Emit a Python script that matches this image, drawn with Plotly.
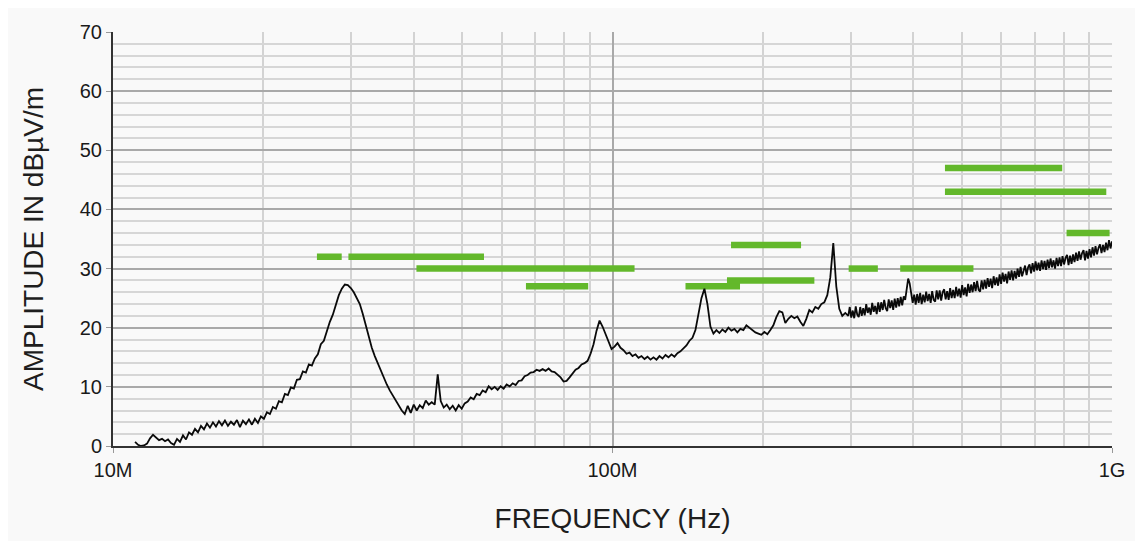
import numpy as np
import plotly.graph_objects as go

# ---- Measured sweep, band 1 (log-spaced, 11.07 MHz .. 296 MHz) ----
band1_start_hz = 11.07e6
band1_stop_hz = 296.5e6
band1_dbuv_m = [
    0.7, 0.2, 0.0, 0.1, 0.4, 1.3, 1.9, 1.5, 1.0, 1.2,
    0.8, 1.1, 0.5, 0.2, 1.2, 0.7, 1.8, 1.1, 2.3, 1.9,
    2.9, 2.3, 3.4, 2.8, 3.8, 3.1, 4.0, 3.3, 4.2, 3.5,
    4.3, 3.4, 4.1, 3.6, 4.4, 3.2, 4.3, 3.7, 4.5, 3.6,
    4.6, 3.9, 5.0, 4.6, 5.7, 5.4, 6.6, 6.3, 7.6, 7.4,
    8.8, 8.6, 9.9, 9.7, 11.2, 11.3, 12.6, 12.4, 13.8, 13.6,
    14.8, 15.5, 17.2, 17.8, 19.6, 21.0, 22.2, 24.0, 25.5, 26.6,
    27.3, 27.2, 26.7, 26.0, 25.0, 24.0, 22.3, 20.3, 18.6, 16.6,
    15.2, 14.0, 12.6, 11.5, 10.4, 9.4, 8.5, 7.6, 6.8, 6.0,
    5.4, 6.8, 5.6, 7.0, 6.0, 6.9, 6.4, 7.7, 7.0, 7.4,
    7.0, 12.1, 7.6, 6.5, 7.0, 6.2, 6.8, 6.0, 6.9, 6.3,
    7.2, 7.5, 8.2, 7.9, 8.8, 8.6, 9.4, 9.1, 10.1, 9.6,
    10.0, 9.5, 10.1, 9.7, 10.4, 10.1, 10.6, 10.3, 11.0, 11.1,
    11.8, 12.0, 12.4, 12.5, 12.9, 12.7, 13.0, 12.7, 13.1, 12.6,
    12.5, 12.0, 11.6, 10.9, 11.0, 11.6, 12.3, 12.9, 13.2, 13.8,
    14.0, 14.4, 15.6, 17.2, 19.5, 21.2, 20.2, 18.9, 17.4, 16.4,
    16.8, 17.4, 16.6, 16.2, 15.6, 15.8, 15.2, 15.5, 14.9, 15.2,
    14.7, 15.1, 14.6, 15.0, 14.6, 15.2, 14.8, 15.4, 15.0, 15.5,
    15.1, 15.7, 16.0, 16.5, 17.0, 17.8, 18.3, 19.6, 22.0, 25.0,
    26.6, 24.0, 20.2, 19.0, 19.6, 19.1, 19.7, 19.3, 20.0, 19.5,
    19.8, 19.2, 19.8, 19.6, 20.4, 20.0, 19.5, 19.2, 19.0, 18.8,
    19.3, 18.9, 19.6, 20.4, 21.8, 22.8, 22.6, 20.8, 21.5, 22.0,
    21.6, 21.9, 21.0, 20.3, 21.5, 23.0, 22.6, 23.5, 23.2, 24.0,
    24.3, 25.5, 28.5, 34.3, 27.0, 23.2, 22.0, 22.5, 22.0,
]

# ---- Measured sweep, band 2 (log-spaced, 298.5 MHz .. 1 GHz) ----
band2_start_hz = 298.5e6
band2_stop_hz = 1.0e9
band2_dbuv_m = [
    23.5, 21.7, 22.9, 21.6, 23.6, 22.2, 21.8, 23.5, 22.0, 23.3,
    22.1, 24.0, 22.5, 23.4, 22.2, 24.2, 22.7, 23.7, 22.3, 24.3,
    22.7, 24.3, 23.0, 24.7, 23.3, 22.8, 24.8, 23.3, 24.6, 23.0,
    24.9, 23.4, 25.0, 23.6, 25.2, 23.8, 25.3, 24.7, 26.3, 28.3,
    27.5, 25.6, 24.2, 25.6, 23.9, 25.7, 24.2, 25.9, 24.0, 25.6,
    24.3, 26.1, 24.5, 25.7, 24.2, 26.2, 24.7, 24.4, 26.3, 24.8,
    26.3, 24.6, 26.0, 26.5, 24.8, 26.2, 24.7, 26.7, 25.0, 26.4,
    25.0, 26.9, 25.3, 26.6, 25.1, 27.2, 25.5, 26.8, 25.3, 27.4,
    25.9, 27.3, 26.0, 27.7, 26.2, 27.9, 26.4, 26.1, 28.0, 26.5,
    28.1, 26.6, 28.4, 26.9, 28.3, 26.7, 28.7, 27.2, 28.5, 27.1,
    29.0, 27.4, 29.3, 27.8, 29.1, 27.5, 29.5, 28.1, 29.7, 28.0,
    29.6, 28.3, 30.0, 28.6, 30.3, 28.7, 29.9, 30.5, 28.9, 30.2,
    30.7, 29.2, 30.9, 29.5, 31.2, 29.7, 31.0, 29.6, 31.4, 29.9,
    31.3, 29.8, 31.5, 30.1, 31.7, 30.2, 31.4, 30.0, 31.8, 30.4,
    31.9, 30.4, 32.1, 30.7, 31.8, 32.3, 30.6, 32.2, 30.8, 32.4,
    31.1, 32.7, 31.3, 32.9, 31.5, 32.6, 33.1, 31.4, 33.0, 31.7,
    33.3, 31.9, 33.6, 32.2, 33.8, 32.4, 33.5, 34.1, 32.6, 34.0,
    32.8, 34.4, 33.1, 34.8, 33.4, 34.6,
]

# ---- Limit segments (MHz start, MHz stop, level dBuV/m) ----
limit_start_mhz = [25.6, 29.6, 40.5, 67.1, 140.0, 169.5, 172.7, 297.0, 376.7, 463.0, 463.0, 811.0]
limit_stop_mhz = [28.7, 55.3, 110.7, 89.4, 180.0, 253.6, 238.5, 339.8, 528.0, 795.0, 974.0, 989.0]
limit_level = [32, 32, 30, 27, 27, 28, 34, 30, 30, 47, 43, 36]

# ---- Axis labels ----
x_tick_hz = [1e7, 1e8, 1e9]
x_tick_text = ["10M", "100M", "1G"]
x_minor_hz = [m * d for d in (1e7, 1e8) for m in range(2, 10)]

freq_hz = np.concatenate([
    np.geomspace(band1_start_hz, band1_stop_hz, len(band1_dbuv_m)),
    np.geomspace(band2_start_hz, band2_stop_hz, len(band2_dbuv_m)),
])
amp = list(band1_dbuv_m) + list(band2_dbuv_m)

lx, ly = [], []
for s, e, lv in zip(limit_start_mhz, limit_stop_mhz, limit_level):
    lx += [s * 1e6, e * 1e6, None]
    ly += [lv, lv, None]

fig = go.Figure()
fig.add_trace(go.Scatter(x=lx, y=ly, mode="lines",
                         line=dict(color="#63b82b", width=6.5),
                         hoverinfo="skip", showlegend=False))
fig.add_trace(go.Scatter(x=freq_hz, y=amp, mode="lines",
                         line=dict(color="#0a0a0a", width=1.8),
                         showlegend=False))

font_family = "Liberation Sans, Arial, sans-serif"
fig.update_layout(
    width=1135, height=533,
    margin=dict(l=105, r=31, t=24, b=91),
    paper_bgcolor="#f9f9f9", plot_bgcolor="#f9f9f9",
    font=dict(family=font_family, color="#1e1e1e"),
    xaxis=dict(
        type="log", range=[7, 9],
        tickmode="array", tickvals=x_tick_hz, ticktext=x_tick_text,
        tickfont=dict(size=20, color="#1a1a1a"),
        ticks="outside", ticklen=5, tickcolor="#999",
        showgrid=True, gridcolor="#a9a9a9", gridwidth=1.5,
        showline=True, linecolor="#333", linewidth=2,
        zeroline=False,
        minor=dict(tickmode="array", tickvals=x_minor_hz, showgrid=True,
                   gridcolor="#d3d3d3", gridwidth=2, ticklen=0),
        title=dict(text="FREQUENCY (Hz)", font=dict(size=28, color="#1e1e1e"), standoff=28),
    ),
    yaxis=dict(
        range=[0, 70], dtick=10, tick0=0,
        tickfont=dict(size=20, color="#1a1a1a"),
        ticks="outside", ticklen=5, tickcolor="#999",
        showgrid=True, gridcolor="#a9a9a9", gridwidth=1.5,
        showline=True, linecolor="#333", linewidth=2,
        zeroline=False,
        minor=dict(dtick=2, showgrid=True, gridcolor="#d6d6d6", gridwidth=2, ticklen=0),
        title=dict(text="AMPLITUDE IN dBµV/m", font=dict(size=28, color="#1e1e1e"), standoff=28),
    ),
)

fig.write_html("out.html")
